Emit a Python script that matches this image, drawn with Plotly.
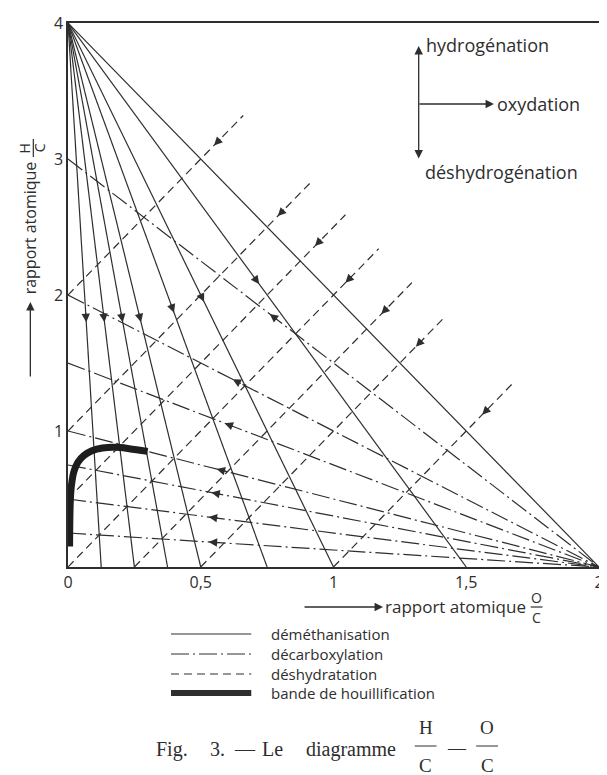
import math
import plotly.graph_objects as go

# ---------------- data ----------------
# déméthanisation: lines converging at CH4 point (0, 4)
demeth_apex = (0.0, 4.0)
demeth_x_intercepts = [0.125, 0.25, 0.375, 0.5, 0.75, 1.0, 1.5, 2.0]
demeth_arrow_y = [1.80, 1.80, 1.80, 1.80, 1.87, 1.95, 2.08, None]

# décarboxylation: lines converging at CO2 point (2, 0)
decarb_apex = (2.0, 0.0)
decarb_y_intercepts = [0.25, 0.5, 0.75, 1.0, 1.5, 2.0, 3.0]
decarb_arrow_x = [0.53, 0.53, 0.54, 0.56, 0.59, 0.62, 0.76]

# déshydratation: parallel lines of slope H/O = 2
dehyd_slope = 2.0
dehyd_offsets = [2.0, 1.0, 0.5, 0.0, -0.5, -1.0, -2.0]
dehyd_end_x = [0.66, 0.91, 1.045, 1.17, 1.295, 1.42, 1.675]
dehyd_arrow_x = [0.55, 0.79, 0.93, 1.045, 1.18, 1.31, 1.56]

# bande de houillification
band_x = [0.006, 0.007, 0.009, 0.013, 0.022, 0.037, 0.06, 0.09, 0.13, 0.18, 0.23, 0.3]
band_y = [0.15, 0.35, 0.50, 0.60, 0.70, 0.77, 0.82, 0.855, 0.875, 0.88, 0.87, 0.85]

x_tick_vals = [0, 0.5, 1, 1.5, 2]
x_tick_text = ["0", "0,5", "1", "1,5", "2"]
y_tick_vals = [1, 2, 3, 4]
y_tick_text = ["1", "2", "3", "4"]

legend_labels = ["déméthanisation", "décarboxylation", "déshydratation",
                 "bande de houillification"]
compass_labels = ["hydrogénation", "oxydation", "déshydrogénation"]
axis_word = "rapport atomique"
caption_words = ["Fig.", "3.", "—", "Le", "diagramme"]

# ---------------- style ----------------
INK = "#2e2e2e"
SANS = "Open Sans"
SERIF = "Liberation Serif"
OFF = 8                      # page body margin
W, H = 607 - OFF, 775 - OFF
L, R, T, B = 68 - OFF, 3, 23 - OFF, 208
PW, PH = W - L - R, H - T - B
SX, SY = PW / 2.0, PH / 4.0   # px per data unit
DASH = "8px,5px"
DASHDOT = "18px,4px,2px,4px"


def pp(px, py):
    """window pixel -> paper coordinates"""
    return (px - OFF - L) / PW, (H - B - (py - OFF)) / PH


fig = go.Figure()

# demethanisation lines
for a in demeth_x_intercepts:
    fig.add_trace(go.Scatter(x=[demeth_apex[0], a], y=[demeth_apex[1], 0],
                             mode="lines", line=dict(color=INK, width=1.2),
                             showlegend=False, hoverinfo="skip"))
# decarboxylation lines
for b in decarb_y_intercepts:
    fig.add_trace(go.Scatter(x=[0, decarb_apex[0]], y=[b, decarb_apex[1]],
                             mode="lines", line=dict(color=INK, width=1.2, dash=DASHDOT),
                             showlegend=False, hoverinfo="skip"))
# dehydration lines
for c, xe in zip(dehyd_offsets, dehyd_end_x):
    x0 = max(0.0, -c / dehyd_slope)
    fig.add_trace(go.Scatter(x=[x0, xe], y=[dehyd_slope * x0 + c, dehyd_slope * xe + c],
                             mode="lines", line=dict(color=INK, width=1.2, dash=DASH),
                             showlegend=False, hoverinfo="skip"))
# coalification band
fig.add_trace(go.Scatter(x=band_x, y=band_y, mode="lines",
                         line=dict(color="#1e1e1e", width=7, shape="spline"),
                         showlegend=False, hoverinfo="skip"))

annotations = []


def arrow(xt, yt, dx, dy, length=11):
    """arrow with tip at (xt,yt) pointing along data direction (dx,dy)"""
    lpx = math.hypot(dx * SX, dy * SY)
    t = length / lpx
    annotations.append(dict(x=xt, y=yt, ax=xt - dx * t, ay=yt - dy * t,
                            xref="x", yref="y", axref="x", ayref="y",
                            showarrow=True, arrowhead=2, arrowsize=1.4,
                            arrowwidth=1.2, arrowcolor=INK, text=""))


for a, ya in zip(demeth_x_intercepts, demeth_arrow_y):
    if ya is None:
        continue
    arrow(a * (1 - ya / 4.0), ya, a, -4.0)
for b, xa in zip(decarb_y_intercepts, decarb_arrow_x):
    arrow(xa, b * (1 - xa / 2.0), -2.0, b)
for c, xa in zip(dehyd_offsets, dehyd_arrow_x):
    arrow(xa, dehyd_slope * xa + c, -1.0, -dehyd_slope)


def text(px, py, s, size=16, anchor="left", angle=0, font=SANS):
    x, y = pp(px, py)
    annotations.append(dict(x=x, y=y, xref="paper", yref="paper", text=s,
                            showarrow=False, xanchor=anchor, yanchor="middle",
                            textangle=angle, font=dict(family=font, size=size, color=INK)))


def parrow(hx, hy, tx, ty, both=False):
    x, y = pp(hx, hy)
    d = dict(x=x, y=y, xref="paper", yref="paper", ax=tx - hx, ay=ty - hy,
             showarrow=True, arrowhead=2, arrowsize=1.3, arrowwidth=1.3,
             arrowcolor=INK, text="")
    if both:
        d.update(arrowside="end+start", startarrowhead=2, startarrowsize=1.3)
    annotations.append(d)


# compass (top right)
parrow(422, 46, 422, 160, both=True)
parrow(498, 104, 422, 104)
text(427, 45, compass_labels[0], 18)
text(499, 104, compass_labels[1], 18)
text(426, 172, compass_labels[2], 18)

# y-axis title
parrow(30, 302, 30, 378)
text(30, 228, axis_word, 16, anchor="center", angle=-90)
text(25, 148, "H", 14, anchor="center", angle=-90)
text(40, 148, "C", 14, anchor="center", angle=-90)

# x-axis title
parrow(386, 607, 306, 607)
text(386, 606, axis_word, 17)
text(541, 597, "O", 14, anchor="center")
text(541, 617, "C", 14, anchor="center")

# legend
legend_y = [634, 654, 674, 693]
for lab, ly in zip(legend_labels, legend_y):
    text(271, ly, lab, 15)

# caption
for wd, cx in zip(caption_words, [155, 209, 234, 262, 306]):
    text(cx, 749, wd, 20, font=SERIF)
text(429, 727, "H", 19, anchor="center", font=SERIF)
text(429, 765, "C", 19, anchor="center", font=SERIF)
text(461, 748, "—", 18, anchor="center", font=SERIF)
text(491, 727, "O", 19, anchor="center", font=SERIF)
text(491, 765, "C", 19, anchor="center", font=SERIF)

shapes = []


def pline(x0, y0, x1, y1, width=1.2, dash=None):
    a0, b0 = pp(x0, y0)
    a1, b1 = pp(x1, y1)
    ln = dict(color=INK, width=width)
    if dash:
        ln["dash"] = dash
    shapes.append(dict(type="line", xref="paper", yref="paper",
                       x0=a0, y0=b0, x1=a1, y1=b1, line=ln))


# fraction bars
pline(33, 139, 33, 157)
pline(535, 607, 547, 607)
pline(418, 746, 440, 746, 1.0)
pline(480, 746, 502, 746, 1.0)
# legend samples
pline(172, legend_y[0], 253, legend_y[0])
pline(172, legend_y[1], 253, legend_y[1], dash=DASHDOT)
pline(172, legend_y[2], 253, legend_y[2], dash=DASH)
pline(172, legend_y[3], 253, legend_y[3], width=6)

fig.update_layout(
    width=W, height=H, margin=dict(l=L, r=R, t=T, b=B),
    paper_bgcolor="white", plot_bgcolor="white",
    annotations=annotations, shapes=shapes,
    font=dict(family=SANS, color=INK),
    xaxis=dict(range=[0, 2], showgrid=False, zeroline=False, showline=True,
               mirror=True, linecolor=INK, linewidth=1.5, ticks="",
               tickvals=x_tick_vals, ticktext=x_tick_text,
               tickfont=dict(family=SANS, size=16, color=INK)),
    yaxis=dict(range=[0, 4], showgrid=False, zeroline=False, showline=True,
               mirror=True, linecolor=INK, linewidth=1.5, ticks="",
               tickvals=y_tick_vals, ticktext=y_tick_text,
               tickfont=dict(family=SANS, size=16, color=INK)),
)

fig.write_html("out.html")
